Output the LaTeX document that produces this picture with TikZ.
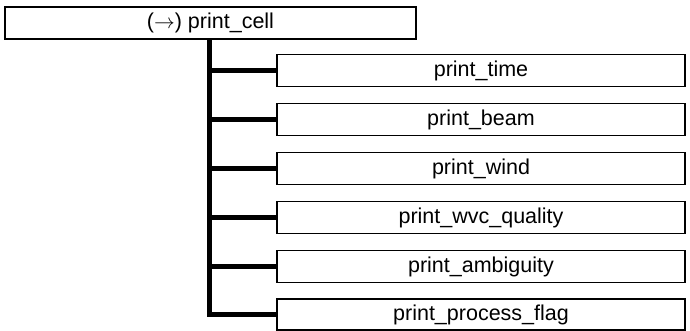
\documentclass[tikz,border=0pt]{standalone}
\usepackage{fontspec}
\setmainfont{Liberation Sans}
\setsansfont{Liberation Sans}
\begin{document}
\begin{tikzpicture}[x=1pt,y=-1pt,
  topbox/.style={draw=black,line width=1.1pt,minimum width=411pt,minimum height=32pt,inner sep=0pt,font=\fontsize{21.5}{24}\selectfont},
  childbox/.style={draw=black,line width=1.1pt,minimum width=408pt,minimum height=32.5pt,inner sep=0pt,font=\fontsize{21.5}{24}\selectfont},
  link/.style={line width=5.5pt,line cap=butt,line join=miter}]
\useasboundingbox (0,0) rectangle (690,331);
\node[topbox] (top) at (210.5,23) {($\rightarrow$) print\_cell};
\node[childbox] (c1) at (481,70.5) {print\_time};
\node[childbox] (c2) at (481,119.5) {print\_beam};
\node[childbox] (c3) at (481,168.5) {print\_wind};
\node[childbox] (c4) at (481,217.5) {print\_wvc\_quality};
\node[childbox] (c5) at (481,266.5) {print\_ambiguity};
\node[childbox,minimum height=31pt] (c6) at (481,314.5) {print\_process\_flag};
\draw[link] ([xshift=-1pt]top.south) |- (c6.west);
\foreach \c in {c1,c2,c3,c4,c5}
  \draw[link] ([xshift=-1pt]top.south |- \c.west) -- (\c.west);
\end{tikzpicture}
\end{document}
